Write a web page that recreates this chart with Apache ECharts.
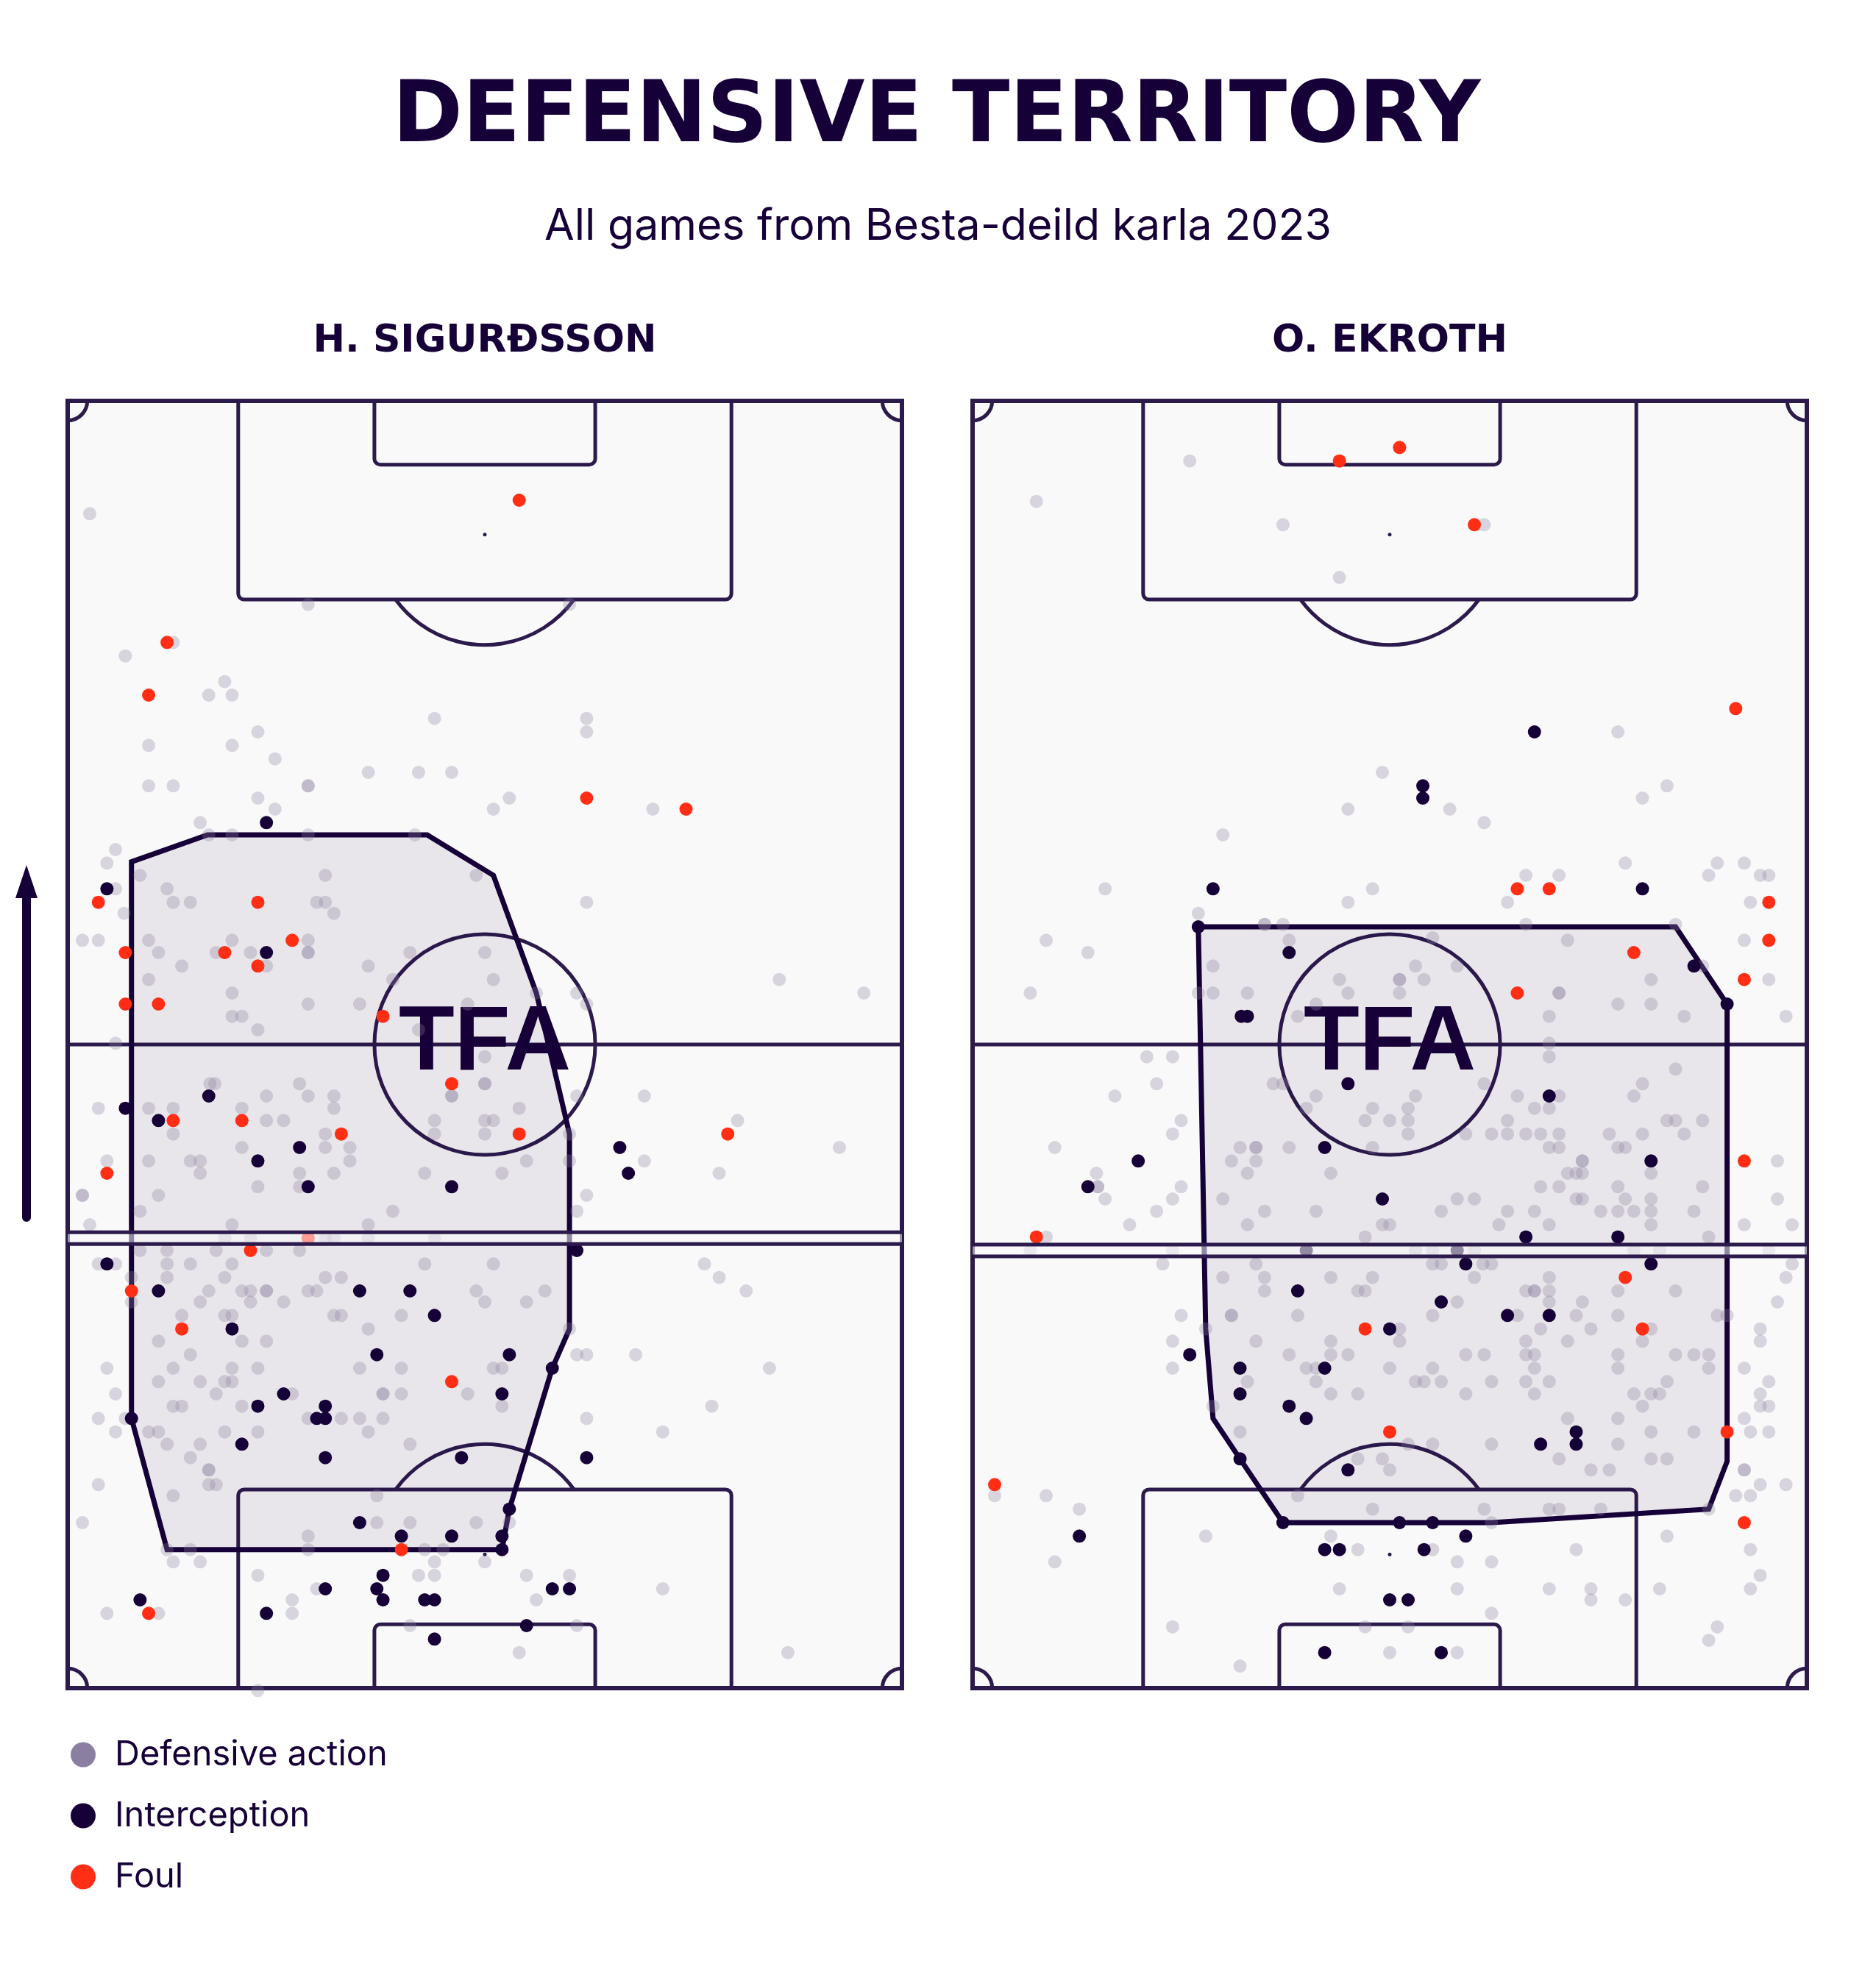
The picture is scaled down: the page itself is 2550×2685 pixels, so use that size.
<!DOCTYPE html>
<html><head><meta charset="utf-8">
<script src="https://cdn.jsdelivr.net/npm/echarts@6/dist/echarts.min.js"></script>
<style>html,body{margin:0;padding:0;background:#ffffff}#c{width:2550px;height:2685px}</style>
</head><body><div id="c"></div>
<script>
// ---------- texts ----------
const titleText = 'DEFENSIVE TERRITORY';
const subtitleText = 'All games from Besta-deild karla 2023';
const players = ['H. SIGURÐSSON', 'O. EKROTH'];
const categories = ['Defensive action', 'Interception', 'Foul'];

// ---------- data (metres: x across 0-68, y along pitch 0-105, attacking upward) ----------
const defLeft = [[1.8,95.8],[19.6,88.4],[40.9,88.4],[8.6,85.3],[4.7,84.2],[12.8,82.1],[11.5,81.0],[13.4,81.0],[29.9,79.1],[42.3,79.1],[42.3,78.0],[15.5,78.0],[6.6,76.9],[13.4,76.9],[16.9,75.8],[24.5,74.7],[28.6,74.7],[31.3,74.7],[6.6,73.6],[8.6,73.6],[19.6,73.6],[19.6,73.6],[15.5,72.6],[36.0,72.6],[16.9,71.7],[34.7,71.7],[47.7,71.7],[10.8,70.6],
[11.5,69.6],[13.4,69.6],[19.6,69.6],[28.3,69.6],[3.9,68.4],[3.2,67.3],[5.9,66.3],[21.0,66.3],[33.3,66.3],[8.1,65.2],[3.9,65.2],[8.6,64.1],[10.0,64.1],[20.3,64.1],[21.0,64.1],[42.3,64.1],[4.6,63.2],[21.7,63.2],[1.2,61.0],[2.5,61.0],[6.6,61.0],[13.4,61.0],[19.6,61.0],[7.4,60.0],[12.1,60.0],[14.9,60.0],[19.6,60.0],[19.6,60.0],[27.9,60.0],[34.0,60.0],[16.2,58.9],[9.3,58.9],[24.5,58.9],[6.6,57.8],[26.5,57.8],[34.7,57.8],[58.0,57.8],[13.4,56.7],[38.2,56.7],[41.5,56.7],[64.9,56.7],[19.6,55.8],[23.8,55.8],[32.6,55.8],[42.3,55.8],[13.4,54.8],[14.2,54.8],[15.5,53.7],[28.6,53.7],[3.9,52.6],[34.0,51.5],
[11.6,49.3],[12.0,49.3],[18.9,49.3],[34.0,49.3],[34.0,49.3],[16.2,48.3],[19.6,48.3],[21.7,48.3],[31.3,48.3],[31.3,48.3],[41.5,48.3],[47.0,48.3],[2.5,47.3],[6.6,47.3],[8.6,47.3],[14.2,47.3],[21.7,47.3],[36.8,47.3],[16.2,46.3],[17.6,46.3],[29.9,46.3],[34.0,46.3],[34.7,46.3],[54.6,46.3],[8.6,45.2],[21.0,45.2],[29.9,45.2],[34.0,45.2],[40.9,45.2],[14.2,44.1],[21.0,44.1],[23.0,44.1],[62.9,44.1],[3.2,43.0],[6.6,43.0],[10.0,43.0],[10.8,43.0],[23.0,43.0],[37.4,43.0],[40.9,43.0],[47.0,43.0],[10.8,42.0],[18.9,42.0],[21.7,42.0],[29.1,42.0],[35.4,42.0],[53.1,42.0],[15.5,40.9],[18.9,40.9],[1.2,40.2],[1.2,40.2],[7.4,40.2],[42.3,40.2],
[5.9,38.9],[26.5,38.9],[41.5,38.9],[1.8,37.8],[13.4,37.8],[24.5,37.8],[12.8,36.7],[14.9,36.7],[21.0,36.7],[21.7,36.7],[24.5,36.7],[29.9,36.7],[5.9,35.7],[8.1,35.7],[12.1,35.7],[16.2,35.7],[18.9,35.7],[2.5,34.6],[3.9,34.6],[8.1,34.6],[10.0,34.6],[13.4,34.6],[29.1,34.6],[34.7,34.6],[51.9,34.6],[5.2,33.5],[8.1,33.5],[12.8,33.5],[21.0,33.5],[22.3,33.5],[53.1,33.5],[11.5,32.4],[14.2,32.4],[14.9,32.4],[16.2,32.4],[16.2,32.4],[19.6,32.4],[20.3,32.4],[33.3,32.4],[38.9,32.4],[55.3,32.4],[5.2,31.5],[10.8,31.5],[14.9,31.5],[17.6,31.5],[34.0,31.5],[37.4,31.5],[9.3,30.4],[12.8,30.4],[13.4,30.4],[21.7,30.4],[22.3,30.4],[27.2,30.4],[24.5,29.3],[40.9,29.3],[7.4,28.3],[14.2,28.3],[16.2,28.3],[10.0,27.2],[41.5,27.2],[42.3,27.2],[46.3,27.2],[3.2,26.1],[8.6,26.1],[13.4,26.1],[15.5,26.1],[23.8,26.1],[27.2,26.1],[34.7,26.1],[35.4,26.1],[57.2,26.1],[7.4,25.0],[10.8,25.0],[12.8,25.0],[13.4,25.0],[3.9,24.0],[12.1,24.0],[18.3,24.0],[25.7,24.0],[25.7,24.0],[27.2,24.0],[32.6,24.0],[8.6,23.0],[9.3,23.0],[14.2,23.0],[35.4,23.0],[52.5,23.0],[2.5,22.0],[4.7,22.0],[19.6,22.0],[22.3,22.0],[23.8,22.0],[25.7,22.0],[42.3,22.0],[3.9,20.9],[6.6,20.9],[7.4,20.9],[12.8,20.9],[15.5,20.9],[24.5,20.9],[48.5,20.9],[8.1,19.9],[10.8,19.9],[27.9,19.9],[10.0,18.8],
[11.5,17.8],[11.5,17.8],[2.5,16.6],[11.5,16.6],[12.1,16.6],[8.6,15.7],[25.2,15.7],[1.2,13.5],[25.2,13.5],[27.9,13.5],[33.3,13.5],[36.0,13.5],[19.6,12.4],[8.1,11.3],[10.0,11.3],[19.6,11.3],[29.1,11.3],[30.6,11.3],[8.6,10.3],[10.8,10.3],[29.9,10.3],[34.0,10.3],[15.5,9.2],[28.6,9.2],[29.9,9.2],[37.4,9.2],[40.9,9.2],[20.3,8.1],[48.5,8.1],[18.3,7.2],[38.2,7.2],[3.2,6.1],[7.4,6.1],[18.3,6.1],[27.9,5.1],[41.5,5.1],[36.8,2.9],[58.7,2.9],[15.5,-0.2]];

const intLeft = [[16.2,70.6],[3.2,65.2],[16.2,60.0],[11.5,48.3],[4.7,47.3],[7.4,46.3],[18.9,44.1],[45.0,44.1],[15.5,43.0],[45.7,42.0],[19.6,40.9],[31.3,40.9],
[41.5,35.7],[3.2,34.6],[7.4,32.4],[23.8,32.4],[27.9,32.4],[29.9,30.4],[13.4,29.3],[25.2,27.2],[36.0,27.2],[39.5,26.1],[17.6,24.0],[35.4,24.0],[15.5,23.0],[21.0,23.0],[5.2,22.0],[20.3,22.0],[21.0,22.0],[14.2,19.9],[21.0,18.8],[32.1,18.8],[42.3,18.8],
[36.0,14.6],[23.8,13.5],[27.2,12.4],[31.3,12.4],[35.4,12.4],[35.4,11.3],[25.7,9.2],[21.0,8.1],[25.2,8.1],[39.5,8.1],[40.9,8.1],[5.9,7.2],[25.7,7.2],[29.1,7.2],[29.9,7.2],[16.2,6.1],[37.4,5.1],[29.9,4.0]];

const foulLeft = [[36.8,96.9],[8.1,85.3],[6.6,81.0],[42.3,72.6],[50.4,71.7],[2.5,64.1],[15.5,64.1],[18.3,61.0],[4.7,60.0],[12.8,60.0],[15.5,58.9],[4.7,55.8],[7.4,55.8],[25.7,54.8],[31.3,49.3],[8.6,46.3],[14.2,46.3],[22.3,45.2],[36.8,45.2],[53.8,45.2],[3.2,42.0],[19.6,36.7],[14.9,35.7],[5.2,32.4],[9.3,29.3],[31.3,25.0],[27.2,11.3],[6.6,6.1]];

const defRight = [[17.7,100.1],[5.2,96.8],[25.3,94.9],[41.7,94.9],[29.9,90.6],[52.6,78.0],[33.4,74.7],[56.6,73.6],[54.6,72.6],[30.6,71.7],[38.9,71.7],[41.7,70.6],[20.4,69.6],
[53.2,67.3],[60.7,67.3],[62.9,67.3],[45.1,66.3],[47.8,66.3],[60.0,66.3],[64.2,66.3],[64.9,66.3],[10.8,65.2],[32.6,65.2],[30.6,64.1],[43.6,64.1],[63.4,64.1],[18.4,63.2],[23.8,62.3],[23.8,62.3],[25.3,62.3],[45.1,62.3],[57.3,62.3],[6.0,61.0],[25.8,61.0],[37.5,61.2],[48.5,61.0],[62.9,61.0],[9.4,60.0],[19.6,58.9],[36.1,58.9],[39.5,58.9],[59.5,58.9],[29.9,57.8],[34.8,57.8],[34.8,57.8],[36.8,57.8],[55.3,57.8],[64.9,57.8],[4.7,56.7],[18.4,56.7],[19.6,56.7],[22.4,56.7],[30.6,56.7],[34.8,56.7],[47.8,56.7],[47.8,56.7],[28.0,55.8],[52.6,55.8],[55.3,55.8],[26.5,54.8],[47.0,54.8],[58.0,54.8],[66.3,54.8],[47.0,52.6],[14.2,51.5],[16.3,51.5],[47.0,51.5],[57.3,50.5],[15.0,49.3],[24.5,49.3],[25.3,49.3],[41.7,49.3],[54.6,49.3],[11.6,48.3],[28.0,48.3],[36.1,48.3],[44.4,48.3],[47.8,48.3],[53.9,48.3],[27.2,47.3],[32.6,47.3],[35.5,47.3],[45.8,47.3],[47.0,47.3],[17.0,46.3],[32.0,46.3],[34.0,46.3],[35.5,46.3],[43.6,46.3],[56.6,46.3],[57.3,46.3],[59.5,46.3],[16.3,45.2],[35.5,45.2],[40.2,45.2],[42.3,45.2],[43.6,45.2],[45.1,45.2],[46.3,45.2],[47.8,45.2],[51.9,45.2],[54.6,45.2],[58.0,45.2],[6.7,44.1],[21.8,44.1],[23.1,44.1],[23.1,44.1],[25.8,44.1],[32.6,44.1],[47.0,44.1],[47.8,44.1],[52.6,44.1],[53.2,44.1],[21.1,43.0],[23.1,43.0],[49.7,43.0],[49.7,43.0],[65.6,43.0],[10.1,42.0],[22.4,42.0],[29.2,42.0],[48.5,42.0],[49.2,42.0],[49.7,42.0],[55.3,42.0],[10.2,40.9],[10.2,40.9],[17.0,40.9],[46.3,40.9],[47.8,40.9],[52.6,40.9],[59.5,40.9],
[10.8,39.9],[16.3,39.9],[20.4,39.9],[39.5,39.9],[40.9,39.9],[49.2,39.9],[49.7,39.9],[53.2,39.9],[55.3,39.9],[65.6,39.9],[15.0,38.9],[23.8,38.9],[28.0,38.9],[38.2,38.9],[43.6,38.9],[45.8,38.9],[51.2,38.9],[52.6,38.9],[53.9,38.9],[55.3,38.9],[58.8,38.9],[12.8,37.8],[22.4,37.8],[33.4,37.8],[34.0,37.8],[42.9,37.8],[47.0,37.8],[55.3,37.8],[62.9,37.8],[66.8,37.8],[6.0,36.8],[32.0,36.8],[60.0,36.8],[4.7,35.7],[16.3,35.7],[36.1,35.7],[37.5,35.7],[40.9,35.7],[53.9,35.7],[56.0,35.7],[64.9,35.7],[15.5,34.6],[23.1,34.6],[37.5,34.6],[38.2,34.6],[41.6,34.6],[42.3,34.6],[66.8,34.6],[20.4,33.5],[23.8,33.5],[29.2,33.5],[32.6,33.5],[40.9,33.5],[47.0,33.5],[66.3,33.5],[23.8,32.4],[31.4,32.4],[32.0,32.4],[45.1,32.4],[45.8,32.4],[45.8,32.4],[47.0,32.4],[52.6,32.4],[57.3,32.4],[39.5,31.5],[47.0,31.5],[49.7,31.5],[65.6,31.5],[17.0,30.4],[21.1,30.4],[21.1,30.4],[26.5,30.4],[37.5,30.4],[44.4,30.4],[49.2,30.4],[52.6,30.4],[60.7,30.4],[61.5,30.4],[19.0,29.3],[34.8,29.3],[46.3,29.3],[50.4,29.3],[55.3,29.3],[64.2,29.3],[16.3,28.3],[23.1,28.3],[29.2,28.3],[34.8,28.3],[45.1,28.3],[48.5,28.3],[54.6,28.3],[64.2,28.3],[25.8,27.2],[29.2,27.2],[30.6,27.2],[40.2,27.2],[41.7,27.2],[45.1,27.2],[45.8,27.2],[52.6,27.2],[57.3,27.2],[58.8,27.2],[60.0,27.2],[16.3,26.1],[27.2,26.1],[28.0,26.1],[34.0,26.1],[37.5,26.1],[45.8,26.1],[52.6,26.1],[60.0,26.1],[62.9,26.1],[22.4,25.0],[28.0,25.0],[36.1,25.0],[36.8,25.0],[38.2,25.0],[42.3,25.0],[45.1,25.0],[47.0,25.0],[56.6,25.0],[64.9,25.0],[29.2,24.0],[31.4,24.0],[40.2,24.0],[45.8,24.0],[53.9,24.0],[55.3,24.0],[56.0,24.0],[64.2,24.0],[19.6,23.0],[54.6,23.0],[64.2,23.0],[64.9,23.0],[48.5,22.0],[52.6,22.0],[62.9,22.0],[21.8,20.9],[55.3,20.9],[58.8,20.9],[63.4,20.9],[64.9,20.9],[35.5,19.9],[37.5,19.9],[42.3,19.9],[52.6,19.9],[31.4,18.7],[33.4,18.7],[47.8,18.7],[55.3,18.7],[56.6,18.7],[34.0,17.8],[50.4,17.8],[51.9,17.8],[62.9,17.8],[62.9,17.8],
[64.2,16.6],[66.3,16.6],[1.8,15.7],[6.0,15.7],[26.5,15.7],[62.2,15.7],[63.4,15.7],[8.7,14.6],[32.6,14.6],[41.7,14.6],[47.0,14.6],[47.8,14.6],[51.2,14.6],[60.0,14.6],[42.3,13.5],[19.0,12.4],[29.2,12.4],[56.6,12.4],[31.4,11.3],[37.5,11.3],[49.2,11.3],[63.4,11.3],[6.7,10.3],[39.5,10.3],[42.3,10.3],[64.2,9.2],[29.9,8.1],[39.5,8.1],[47.0,8.1],[50.4,8.1],[56.0,8.1],[63.4,8.1],[50.4,7.2],[53.2,7.2],[42.3,6.1],[16.3,5.0],[32.0,5.0],[35.5,5.0],[60.7,5.0],[60.0,3.9],[34.0,2.9],[39.5,2.9],[21.8,1.8]];

const intRight = [[45.8,78.0],[36.7,73.6],[36.7,72.6],[19.6,65.2],[54.6,65.2],[18.4,62.1],[25.8,60.0],[58.8,58.9],[61.5,55.8],[21.9,54.8],[22.4,54.8],[30.6,49.3],[47.0,48.3],[28.7,44.1],[13.5,43.0],[55.3,43.0],[9.4,40.9],
[33.4,39.9],[45.1,36.8],[52.6,36.8],[27.2,35.7],[39.5,35.7],[40.2,34.6],[55.3,34.6],[26.5,32.4],[38.2,31.5],[43.6,30.4],[47.0,30.4],[34.0,29.3],[17.7,27.2],[21.8,26.1],[28.7,26.1],[21.8,24.0],[25.8,23.0],[27.2,22.0],[49.2,20.9],[46.3,19.9],[49.2,19.9],[21.8,18.7],[30.6,17.8],
[25.3,13.5],[34.8,13.5],[37.5,13.5],[8.7,12.4],[40.2,12.4],[28.7,11.3],[29.9,11.3],[36.8,11.3],[34.0,7.2],[35.5,7.2],[28.7,2.9],[38.2,2.9]];

const foulRight = [[34.8,101.2],[29.9,100.1],[40.9,94.9],[62.2,79.9],[44.4,65.2],[47.0,65.2],[64.9,64.1],[64.9,61.0],[53.9,60.0],[62.9,57.8],[44.4,56.7],[62.9,43.0],[5.2,36.8],[53.2,33.5],[32.0,29.3],[54.6,29.3],[34.0,20.9],[61.5,20.9],[1.8,16.6],[62.9,13.5]];

// territory (hull) vertices and average line height
const hullLeft = [[5.2,67.4],[11.4,69.6],[29.3,69.6],[34.7,66.3],[38.2,56.7],[40.9,45.2],[40.9,29.3],[39.5,26.1],[36.0,14.6],[35.4,11.3],[8.1,11.3],[5.2,22.0]];
const hullRight = [[18.4,62.1],[57.3,62.1],[61.5,55.8],[61.5,18.5],[60.0,14.6],[42.3,13.5],[25.3,13.5],[21.8,18.7],[19.6,22.0],[19.0,29.3]];
const lineLeft = 36.7;
const lineRight = 35.7;

// ---------- styling ----------
const LINE = '#2b1a4b';
const DARK = '#160038';
const GRAY = 'rgba(138,127,160,0.3)';
const RED = '#ff2e14';
const PW = 68, PL = 105;

function pitchItem(params, api) {
  const p = (x, y) => api.coord([x, y]);
  const k = api.size([1, 1]);
  const kx = k[0], ky = k[1];
  const tl = p(0, PL), br = p(PW, 0);
  const W = br[0] - tl[0], H = br[1] - tl[1];
  const ls = { stroke: LINE, lineWidth: 5, fill: 'none' };
  const kids = [];
  kids.push({ type: 'rect', shape: { x: tl[0], y: tl[1], width: W, height: H }, style: { fill: '#f9f9f9', stroke: 'none' } });
  const a = p(0, 52.5), b = p(PW, 52.5);
  kids.push({ type: 'line', shape: { x1: a[0], y1: a[1], x2: b[0], y2: b[1] }, style: ls });
  const c = p(34, 52.5);
  kids.push({ type: 'circle', shape: { cx: c[0], cy: c[1], r: 9.0 * kx }, style: ls });
  const pb = p(13.9, PL), pb2 = p(13.9, 16.2);
  kids.push({ type: 'rect', shape: { x: pb[0], y: tl[1], width: 40.2 * kx, height: 16.2 * ky, r: [0, 0, 8, 8] }, style: ls });
  kids.push({ type: 'rect', shape: { x: pb2[0], y: pb2[1], width: 40.2 * kx, height: 16.2 * ky, r: [8, 8, 0, 0] }, style: ls });
  const ga = p(25.0, PL), ga2 = p(25.0, 5.2);
  kids.push({ type: 'rect', shape: { x: ga[0], y: tl[1], width: 18.0 * kx, height: 5.2 * ky, r: [0, 0, 8, 8] }, style: ls });
  kids.push({ type: 'rect', shape: { x: ga2[0], y: ga2[1], width: 18.0 * kx, height: 5.2 * ky, r: [8, 8, 0, 0] }, style: ls });
  const ang = Math.acos((16.2 - 10.9) / 9.0);
  const st = p(34, PL - 10.9), sb = p(34, 10.9);
  kids.push({ type: 'arc', shape: { cx: st[0], cy: st[1], r: 9.0 * kx, startAngle: Math.PI / 2 - ang, endAngle: Math.PI / 2 + ang, clockwise: true }, style: ls });
  kids.push({ type: 'arc', shape: { cx: sb[0], cy: sb[1], r: 9.0 * kx, startAngle: -Math.PI / 2 - ang, endAngle: -Math.PI / 2 + ang, clockwise: true }, style: ls });
  kids.push({ type: 'circle', shape: { cx: st[0], cy: st[1], r: 2.5 }, style: { fill: LINE } });
  kids.push({ type: 'circle', shape: { cx: sb[0], cy: sb[1], r: 2.5 }, style: { fill: LINE } });
  const cr = 1.6 * kx;
  const corners = [[p(0, 0), -Math.PI / 2, 0], [p(PW, 0), Math.PI, 1.5 * Math.PI], [p(0, PL), 0, Math.PI / 2], [p(PW, PL), Math.PI / 2, Math.PI]];
  corners.forEach(cc => kids.push({ type: 'arc', shape: { cx: cc[0][0], cy: cc[0][1], r: cr, startAngle: cc[1], endAngle: cc[2], clockwise: true }, style: ls }));
  kids.push({ type: 'text', x: c[0], y: c[1], style: { text: 'TFA', font: '900 124px "Liberation Sans", Arial, sans-serif', fill: DARK, align: 'center', verticalAlign: 'middle', textAlign: 'center', textVerticalAlign: 'middle' } });
  kids.push({ type: 'rect', shape: { x: tl[0], y: tl[1], width: W, height: H }, style: { fill: 'none', stroke: LINE, lineWidth: 6 } });
  return { type: 'group', children: kids };
}

function hullItem(hull) {
  return function (params, api) {
    const pts = hull.map(q => api.coord(q));
    return { type: 'polygon', shape: { points: pts }, style: { fill: 'rgba(22,0,56,0.075)', stroke: DARK, lineWidth: 7, lineJoin: 'miter' } };
  };
}

function bandItem(params, api) {
  const y = api.value(1);
  const a = api.coord([0, y + 0.48]), b = api.coord([PW, y - 0.48]);
  return { type: 'group', children: [
    { type: 'rect', shape: { x: a[0], y: a[1], width: b[0] - a[0], height: b[1] - a[1] }, style: { fill: 'rgba(249,249,251,0.55)', stroke: 'none' } },
    { type: 'line', shape: { x1: a[0], y1: a[1], x2: b[0], y2: a[1] }, style: { stroke: LINE, lineWidth: 5 } },
    { type: 'line', shape: { x1: a[0], y1: b[1], x2: b[0], y2: b[1] }, style: { stroke: LINE, lineWidth: 5 } }
  ] };
}

function scat(name, data, i, color, z) {
  return { type: 'scatter', name: name, data: data, xAxisIndex: i, yAxisIndex: i, symbolSize: 18,
    itemStyle: { color: color, opacity: 1 }, z: z, silent: true, clip: false, emphasis: { disabled: true } };
}

const chart = echarts.init(document.getElementById('c'), null, { renderer: 'canvas' });
const option = {
  backgroundColor: '#ffffff',
  animation: false,
  grid: [
    { left: 92, top: 545, width: 1134, height: 1750 },
    { left: 1322, top: 545, width: 1134, height: 1750 }
  ],
  xAxis: [
    { type: 'value', gridIndex: 0, min: 0, max: PW, show: false },
    { type: 'value', gridIndex: 1, min: 0, max: PW, show: false }
  ],
  yAxis: [
    { type: 'value', gridIndex: 0, min: 0, max: PL, show: false },
    { type: 'value', gridIndex: 1, min: 0, max: PL, show: false }
  ],
  legend: {
    orient: 'vertical', left: 91, top: 2357, itemWidth: 34, itemHeight: 34, itemGap: 36, icon: 'circle',
    selectedMode: false,
    textStyle: { fontSize: 47, fontFamily: 'Inter', color: DARK, lineHeight: 34, padding: [0, 0, 0, 21] },
    data: [
      { name: categories[0], itemStyle: { color: '#8a7fa0', opacity: 1 } },
      { name: categories[1], itemStyle: { color: DARK, opacity: 1 } },
      { name: categories[2], itemStyle: { color: RED, opacity: 1 } }
    ]
  },
  graphic: [
    { type: 'text', x: 1273, y: 162, style: { text: titleText, font: 'bold 115px "DejaVu Sans", sans-serif', fill: DARK, align: 'center', verticalAlign: 'middle', textAlign: 'center', textVerticalAlign: 'middle' } },
    { type: 'text', x: 1275, y: 308, style: { text: subtitleText, font: '400 59px Inter, sans-serif', fill: DARK, align: 'center', verticalAlign: 'middle', textAlign: 'center', textVerticalAlign: 'middle' } },
    { type: 'text', x: 659, y: 464, style: { text: players[0], font: 'bold 52px "DejaVu Sans", sans-serif', fill: DARK, align: 'center', verticalAlign: 'middle', textAlign: 'center', textVerticalAlign: 'middle' } },
    { type: 'text', x: 1889, y: 464, style: { text: players[1], font: 'bold 52px "DejaVu Sans", sans-serif', fill: DARK, align: 'center', verticalAlign: 'middle', textAlign: 'center', textVerticalAlign: 'middle' } },
    { type: 'line', shape: { x1: 36, y1: 1655, x2: 36, y2: 1212 }, style: { stroke: DARK, lineWidth: 12, lineCap: 'round' } },
    { type: 'polygon', shape: { points: [[36, 1176], [51, 1221], [21, 1221]] }, style: { fill: DARK } }
  ],
  series: [
    { type: 'custom', name: 'pitchL', coordinateSystem: 'cartesian2d', xAxisIndex: 0, yAxisIndex: 0, data: [[0, 0]], renderItem: pitchItem, z: 1, silent: true },
    { type: 'custom', name: 'pitchR', coordinateSystem: 'cartesian2d', xAxisIndex: 1, yAxisIndex: 1, data: [[0, 0]], renderItem: pitchItem, z: 1, silent: true },
    { type: 'custom', name: 'hullL', coordinateSystem: 'cartesian2d', xAxisIndex: 0, yAxisIndex: 0, data: [[0, 0]], renderItem: hullItem(hullLeft), z: 2, silent: true },
    { type: 'custom', name: 'hullR', coordinateSystem: 'cartesian2d', xAxisIndex: 1, yAxisIndex: 1, data: [[0, 0]], renderItem: hullItem(hullRight), z: 2, silent: true },
    scat(categories[0], defLeft, 0, GRAY, 3),
    scat(categories[0], defRight, 1, GRAY, 3),
    scat(categories[1], intLeft, 0, DARK, 4),
    scat(categories[1], intRight, 1, DARK, 4),
    scat(categories[2], foulLeft, 0, RED, 5),
    scat(categories[2], foulRight, 1, RED, 5),
    { type: 'custom', name: 'lineL', coordinateSystem: 'cartesian2d', xAxisIndex: 0, yAxisIndex: 0, data: [[34, lineLeft]], renderItem: bandItem, z: 6, silent: true },
    { type: 'custom', name: 'lineR', coordinateSystem: 'cartesian2d', xAxisIndex: 1, yAxisIndex: 1, data: [[34, lineRight]], renderItem: bandItem, z: 6, silent: true }
  ]
};
chart.setOption(option);
</script>
</body></html>
